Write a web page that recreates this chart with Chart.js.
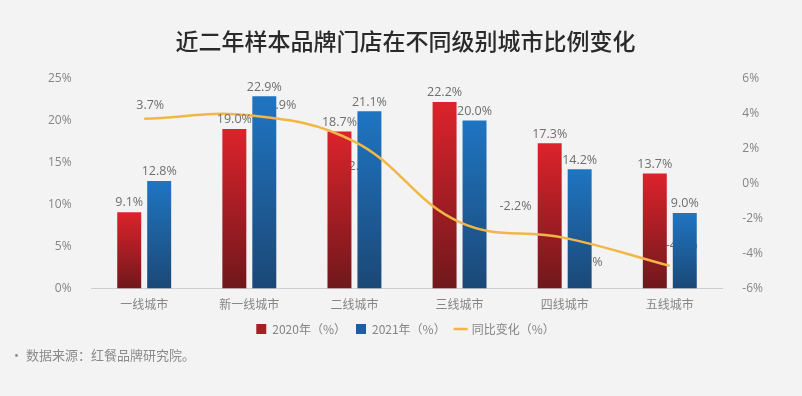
<!DOCTYPE html>
<html>
<head>
<meta charset="utf-8">
<script src="https://cdn.jsdelivr.net/npm/chart.js@4.4.1/dist/chart.umd.min.js"></script>
<style>
  html, body { margin: 0; padding: 0; background: #f3f3f3; }
  #wrap { position: relative; width: 802px; height: 396px; }
  #source {
    position: absolute; left: 10px; top: 345px;
    font: 13px "Noto Sans CJK SC", sans-serif; color: #8a8a8a;
  }
</style>
</head>
<body>
<div id="wrap">
  <canvas id="cityChart" width="802" height="396"></canvas>
  <div id="source">• 数据来源：红餐品牌研究院。</div>
</div>
<script>
// values
const categories = ['一线城市', '新一线城市', '二线城市', '三线城市', '四线城市', '五线城市'];
const share2020 = [9.1, 19.0, 18.7, 22.2, 17.3, 13.7];
const share2021 = [12.8, 22.9, 21.1, 20.0, 14.2, 9.0];
const yoyChange = [3.7, 3.9, 2.4, -2.2, -3.1, -4.7];
const seriesNames = ['2020年（%）', '2021年（%）', '同比变化（%）'];

const gray = '#858585';
const cjk = '"Noto Sans CJK SC", sans-serif';

// vertical gradient per bar, bright on top, dark at the base
function barGradient(top, bottom) {
    return function(context) {
        const chart = context.chart;
        const area = chart.chartArea;
        if (!area || context.type !== 'data') return top;
        const y = chart.scales.y;
        const yTop = y.getPixelForValue(context.raw);
        const g = chart.ctx.createLinearGradient(0, yTop, 0, y.getPixelForValue(0));
        g.addColorStop(0, top);
        g.addColorStop(1, bottom);
        return g;
    };
}

// line labels go under the bars, bar labels on top
const labelPlugin = {
    id: 'valueLabels',
    beforeDatasetsDraw(chart) {
        const ctx = chart.ctx;
        const meta = chart.getDatasetMeta(2);
        const shift = [[6, -13], [33, -10], [8, 25], [56, -16], [22, 25], [12, -20]];
        ctx.save();
        ctx.font = '12.5px "Open Sans", sans-serif';
        ctx.fillStyle = '#6e6e6e';
        ctx.textAlign = 'center';
        ctx.textBaseline = 'middle';
        meta.data.forEach(function(pt, i) {
            ctx.fillText(yoyChange[i].toFixed(1) + '%', pt.x + shift[i][0], pt.y + shift[i][1]);
        });
        ctx.restore();
    },
    afterDatasetsDraw(chart) {
        const ctx = chart.ctx;
        ctx.save();
        ctx.font = '12.5px "Open Sans", sans-serif';
        ctx.fillStyle = '#6e6e6e';
        ctx.textAlign = 'center';
        ctx.textBaseline = 'bottom';
        [0, 1].forEach(function(d) {
            const values = d === 0 ? share2020 : share2021;
            chart.getDatasetMeta(d).data.forEach(function(bar, i) {
                ctx.fillText(values[i].toFixed(1) + '%', bar.x, bar.y - 3);
            });
        });
        ctx.restore();
    }
};

new Chart(document.getElementById('cityChart'), {
    type: 'bar',
    data: {
        labels: categories,
        datasets: [{
            label: seriesNames[0],
            data: share2020,
            backgroundColor: barGradient('#dc232b', '#6f181c'),
            categoryPercentage: 0.57,
            barPercentage: 0.8,
            yAxisID: 'y',
            order: 1
        }, {
            label: seriesNames[1],
            data: share2021,
            backgroundColor: barGradient('#1f75c2', '#1b4876'),
            categoryPercentage: 0.57,
            barPercentage: 0.8,
            yAxisID: 'y',
            order: 1
        }, {
            type: 'line',
            label: seriesNames[2],
            data: yoyChange,
            borderColor: '#f1b746',
            backgroundColor: '#f1b746',
            borderWidth: 2.5,
            pointRadius: 0,
            tension: 0.4,
            yAxisID: 'y1',
            order: 0
        }]
    },
    options: {
        responsive: false,
        animation: false,
        layout: {
            padding: { left: 36, right: 27, top: 0, bottom: 51 }
        },
        plugins: {
            title: {
                display: true,
                text: '近二年样本品牌门店在不同级别城市比例变化',
                color: '#2a2a2a',
                font: { family: cjk, size: 23, weight: '500' },
                padding: { top: 27, bottom: 24 }
            },
            legend: {
                position: 'bottom',
                labels: {
                    color: gray,
                    font: { family: cjk, size: 12 },
                    boxWidth: 10,
                    boxHeight: 10,
                    padding: 10,
                    generateLabels: function(chart) {
                        const solid = ['#a51f25', '#1d5e9c', '#f1b746'];
                        return seriesNames.map(function(name, i) {
                            return {
                                text: name,
                                fillStyle: solid[i],
                                strokeStyle: solid[i],
                                fontColor: gray,
                                lineWidth: i === 2 ? 2.5 : 0,
                                pointStyle: i === 2 ? 'line' : 'rect',
                                datasetIndex: i
                            };
                        });
                    },
                    usePointStyle: true
                }
            },
            tooltip: { enabled: false }
        },
        scales: {
            x: {
                grid: { display: false },
                border: { color: '#cfcfcf' },
                ticks: { color: gray, font: { family: cjk, size: 12 }, padding: 1 }
            },
            y: {
                position: 'left',
                min: 0,
                max: 25,
                grid: { display: false },
                border: { display: false },
                ticks: {
                    stepSize: 5,
                    color: gray,
                    padding: 12,
                    font: { family: '"Open Sans", sans-serif', size: 12 },
                    callback: function(value) { return value + '%'; }
                }
            },
            y1: {
                position: 'right',
                min: -6,
                max: 6,
                grid: { display: false },
                border: { display: false },
                ticks: {
                    stepSize: 2,
                    color: gray,
                    padding: 12,
                    font: { family: '"Open Sans", sans-serif', size: 12 },
                    callback: function(value) { return value + '%'; }
                }
            }
        }
    },
    plugins: [labelPlugin]
});
</script>
</body>
</html>
